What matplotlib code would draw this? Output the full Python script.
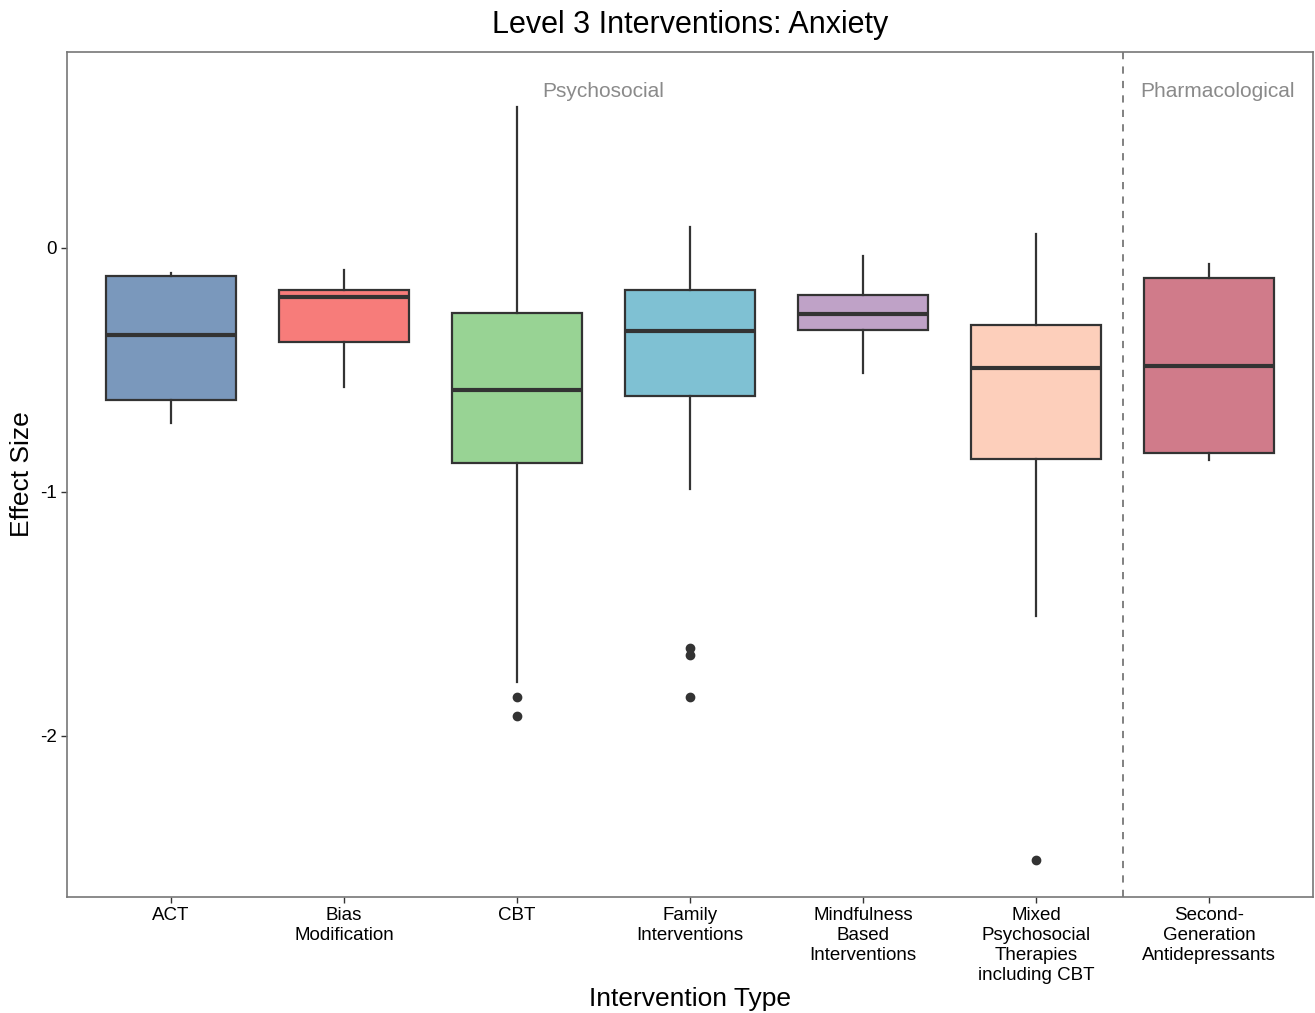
import matplotlib
matplotlib.use("Agg")
import matplotlib.pyplot as plt
import numpy as np

plt.rcParams['font.family'] = ['Liberation Sans', 'DejaVu Sans']

# box stats
categories = ["ACT", "Bias\nModification", "CBT", "Family\nInterventions",
              "Mindfulness\nBased\nInterventions",
              "Mixed\nPsychosocial\nTherapies\nincluding CBT",
              "Second-\nGeneration\nAntidepressants"]
whislo = [-0.717, -0.570, -1.779, -0.988, -0.512, -1.508, -0.869]
q1 = [-0.623, -0.385, -0.881, -0.607, -0.336, -0.865, -0.840]
med = [-0.357, -0.201, -0.582, -0.340, -0.270, -0.492, -0.484]
q3 = [-0.115, -0.172, -0.266, -0.172, -0.193, -0.316, -0.123]
whishi = [-0.102, -0.090, 0.578, 0.086, -0.033, 0.057, -0.066]
fliers = [[], [], [-1.84, -1.918], [-1.639, -1.668, -1.84], [], [-2.508], []]
colors = ["#7A98BC", "#F77C7A", "#98D394", "#7FC1D3", "#BFA2C7", "#FDCFBB", "#D07B8A"]

group_labels = ["Psychosocial", "Pharmacological"]
group_x = [3.5, 7.05]
group_y = 0.64
divider_x = 6.5

stats = []
for i in range(len(categories)):
    stats.append(dict(med=med[i], q1=q1[i], q3=q3[i], whislo=whislo[i],
                      whishi=whishi[i], fliers=fliers[i]))

fig = plt.figure(figsize=(13.15, 10.13), dpi=100)
ax = fig.add_axes([67 / 1315, 1 - 897 / 1013, (1313 - 67) / 1315, (897 - 52) / 1013])

pos = np.arange(1, len(categories) + 1)
bp = ax.bxp(stats, positions=pos, widths=0.75, patch_artist=True,
            showcaps=False,
            boxprops=dict(edgecolor="#333333", linewidth=1.6),
            medianprops=dict(color="#333333", linewidth=3),
            whiskerprops=dict(color="#333333", linewidth=1.6),
            flierprops=dict(marker="o", markerfacecolor="#333333",
                            markeredgecolor="#333333", markersize=6))
for patch, c in zip(bp["boxes"], colors):
    patch.set_facecolor(c)

ax.axvline(divider_x, color="#777777", linestyle=(0, (4, 4)), linewidth=1.3)
for lab, gx in zip(group_labels, group_x):
    ax.text(gx, group_y, lab, ha="center", va="center", fontsize=15, color="#8a8a8a")

ax.set_xlim(0.4, 7.6)
ax.set_ylim(-2.66, 0.803)
ax.set_yticks([0, -1, -2])
ax.set_yticklabels(["0", "-1", "-2"])
ax.set_xticks(pos)
ax.set_xticklabels(categories, linespacing=1.22)
ax.tick_params(axis="x", labelsize=13.5, color="#333333", length=4, width=1)
ax.tick_params(axis="y", labelsize=13.5, color="#333333", length=4, width=1)
for s in ax.spines.values():
    s.set_color("#777777")
    s.set_linewidth(1.2)

ax.set_xlabel("Intervention Type", fontsize=19, labelpad=2)
ax.set_ylabel("Effect Size", fontsize=19, labelpad=4)
fig.text(0.525, 1 - 25 / 1013, "Level 3 Interventions: Anxiety", fontsize=22,
         ha="center", va="center")

fig.savefig("out.png", dpi=100)
